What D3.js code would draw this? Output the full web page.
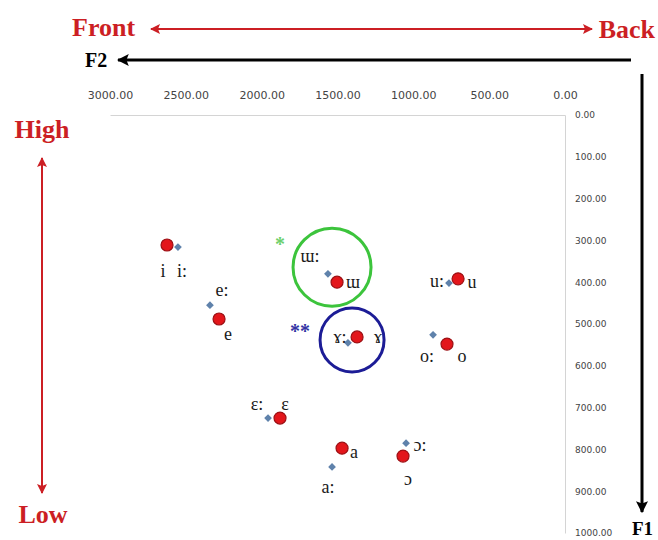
<!DOCTYPE html>
<html>
<head>
<meta charset="utf-8">
<script src="https://cdn.jsdelivr.net/npm/d3@7"></script>
<style>
  body { margin: 0; background: #fff; }
  svg text { font-family: "Liberation Serif", "DejaVu Serif", serif; }
</style>
</head>
<body>
<svg id="chart" width="658" height="540"></svg>
<script>
// vowels, short (red circle) and long (blue diamond) formant values
const vowels = ["i", "e", "ɛ", "a", "ɯ", "ɤ", "u", "o", "ɔ"];
const shortF2 = [2624, 2281, 1879, 1470, 1503, 1371, 705, 778, 1068];
const shortF1 = [311, 488, 725, 797, 400, 531, 392, 548, 816];
const longF2 = [2552, 2341, 1958, 1536, 1563, 1431, 765, 870, 1048];
const longF1 = [316, 455, 725, 842, 380, 545, 402, 526, 785];

const xTicks = [3000, 2500, 2000, 1500, 1000, 500, 0];
const yTicks = [0, 100, 200, 300, 400, 500, 600, 700, 800, 900, 1000];

// highlighted groups (centre in F2/F1)
const groupF2 = [1536, 1404];
const groupF1 = [364, 538];

// label offsets in px (layout only)
const shortOff = [[-4, 27], [9, 16], [5, -13], [12, 4], [16, 0], [21, 1], [14, 4], [15, 13], [5, 24]];
const longOff = [[4, 25], [12, -15], [-11, -13], [-4, 21], [-18, -17], [-8, -5], [-12, -1], [-6, 22], [14, 2]];

const svg = d3.select("#chart");
const width = 658, height = 540;
const red = "#cc1f24";

const x = d3.scaleLinear().domain([3000, 0]).range([110, 565]);
const y = d3.scaleLinear().domain([0, 1000]).range([115, 533]);

// markers
const defs = svg.append("defs");
function marker(id, color, size) {
  defs.append("marker")
    .attr("id", id)
    .attr("viewBox", "0 0 10 10")
    .attr("refX", 9).attr("refY", 5)
    .attr("markerWidth", size).attr("markerHeight", size)
    .attr("markerUnits", "userSpaceOnUse")
    .attr("orient", "auto-start-reverse")
    .append("path")
    .attr("d", "M0,0 L10,5 L0,10 L2,5 Z")
    .attr("fill", color);
}
marker("redHead", red, 10);
marker("blackHead", "#000", 12);

// Axes
const xAxis = svg.append("g")
  .attr("transform", `translate(0,${y(0)})`)
  .call(d3.axisTop(x).tickValues(xTicks).tickSize(0).tickPadding(16).tickFormat(d3.format(".2f")));
const yAxis = svg.append("g")
  .attr("transform", `translate(${x(0)},0)`)
  .call(d3.axisRight(y).tickValues(yTicks).tickSize(0).tickPadding(10).tickFormat(d3.format(".2f")));

[xAxis, yAxis].forEach(g => {
  g.select(".domain").attr("stroke", "#d4d4d4").attr("stroke-width", 1);
  g.selectAll("text").attr("fill", "#444").style("font-family", "DejaVu Sans, sans-serif");
});
xAxis.selectAll("text").style("font-size", "11px");
yAxis.selectAll("text").style("font-size", "9px");

// Front / Back arrow
svg.append("line")
  .attr("x1", 151).attr("x2", 592).attr("y1", 29).attr("y2", 29)
  .attr("stroke", red).attr("stroke-width", 2)
  .attr("marker-start", "url(#redHead)").attr("marker-end", "url(#redHead)");
svg.append("text").attr("x", 72).attr("y", 36).text("Front")
  .attr("fill", red).attr("font-weight", "bold").attr("font-size", 26);
svg.append("text").attr("x", 655).attr("y", 38).attr("text-anchor", "end").text("Back")
  .attr("fill", red).attr("font-weight", "bold").attr("font-size", 26);

// High / Low arrow
svg.append("line")
  .attr("x1", 42).attr("x2", 42).attr("y1", 158).attr("y2", 493)
  .attr("stroke", red).attr("stroke-width", 2)
  .attr("marker-start", "url(#redHead)").attr("marker-end", "url(#redHead)");
svg.append("text").attr("x", 42).attr("y", 138).attr("text-anchor", "middle").text("High")
  .attr("fill", red).attr("font-weight", "bold").attr("font-size", 26);
svg.append("text").attr("x", 43).attr("y", 523).attr("text-anchor", "middle").text("Low")
  .attr("fill", red).attr("font-weight", "bold").attr("font-size", 26);

// F2 / F1 arrows
svg.append("line")
  .attr("x1", 631).attr("x2", 118).attr("y1", 60).attr("y2", 60)
  .attr("stroke", "#000").attr("stroke-width", 3)
  .attr("marker-end", "url(#blackHead)");
svg.append("text").attr("x", 85).attr("y", 67).text("F2")
  .attr("font-weight", "bold").attr("font-size", 20);
svg.append("line")
  .attr("x1", 642).attr("x2", 642).attr("y1", 74).attr("y2", 512)
  .attr("stroke", "#000").attr("stroke-width", 3)
  .attr("marker-end", "url(#blackHead)");
svg.append("text").attr("x", 632).attr("y", 535).text("F1")
  .attr("font-weight", "bold").attr("font-size", 19);

// Highlight circles
const groupColor = ["#3cc43c", "#1c1c96"];
const groupR = [39, 32];
svg.selectAll("circle.group")
  .data(groupF2)
  .join("circle")
  .attr("class", "group")
  .attr("cx", d => x(d))
  .attr("cy", (d, i) => y(groupF1[i]))
  .attr("r", (d, i) => groupR[i])
  .attr("fill", "none")
  .attr("stroke", (d, i) => groupColor[i])
  .attr("stroke-width", 3);
svg.append("text").attr("x", x(groupF2[0]) - 52).attr("y", y(groupF1[0]) - 16)
  .attr("text-anchor", "middle").text("*")
  .attr("fill", "#6cd06c").attr("font-weight", "bold").attr("font-size", 20);
svg.append("text").attr("x", x(groupF2[1]) - 52).attr("y", y(groupF1[1]) - 2)
  .attr("text-anchor", "middle").text("**")
  .attr("fill", "#3434a4").attr("font-weight", "bold").attr("font-size", 20);

// Long vowels (diamonds = rotated squares)
svg.selectAll("path.long")
  .data(vowels)
  .join("path")
  .attr("class", "long")
  .attr("d", d3.symbol(d3.symbolSquare, 30))
  .attr("transform", (d, i) => `translate(${x(longF2[i])},${y(longF1[i])}) rotate(45)`)
  .attr("fill", "#5f82ab");

// Short vowels (red circles)
svg.selectAll("circle.short")
  .data(vowels)
  .join("circle")
  .attr("class", "short")
  .attr("cx", (d, i) => x(shortF2[i]))
  .attr("cy", (d, i) => y(shortF1[i]))
  .attr("r", 6)
  .attr("fill", "#e3161b")
  .attr("stroke", "#9c1014")
  .attr("stroke-width", 1.2);

// Labels
svg.selectAll("text.shortLabel")
  .data(vowels)
  .join("text")
  .attr("class", "shortLabel")
  .attr("x", (d, i) => x(shortF2[i]) + shortOff[i][0])
  .attr("y", (d, i) => y(shortF1[i]) + shortOff[i][1])
  .attr("dy", "0.3em")
  .attr("text-anchor", "middle")
  .attr("font-size", 18)
  .attr("fill", "#1a1a1a")
  .text(d => d);

svg.selectAll("text.longLabel")
  .data(vowels)
  .join("text")
  .attr("class", "longLabel")
  .attr("x", (d, i) => x(longF2[i]) + longOff[i][0])
  .attr("y", (d, i) => y(longF1[i]) + longOff[i][1])
  .attr("dy", "0.3em")
  .attr("text-anchor", "middle")
  .attr("font-size", 18)
  .attr("fill", "#1a1a1a")
  .text(d => d + ":");
</script>
</body>
</html>
